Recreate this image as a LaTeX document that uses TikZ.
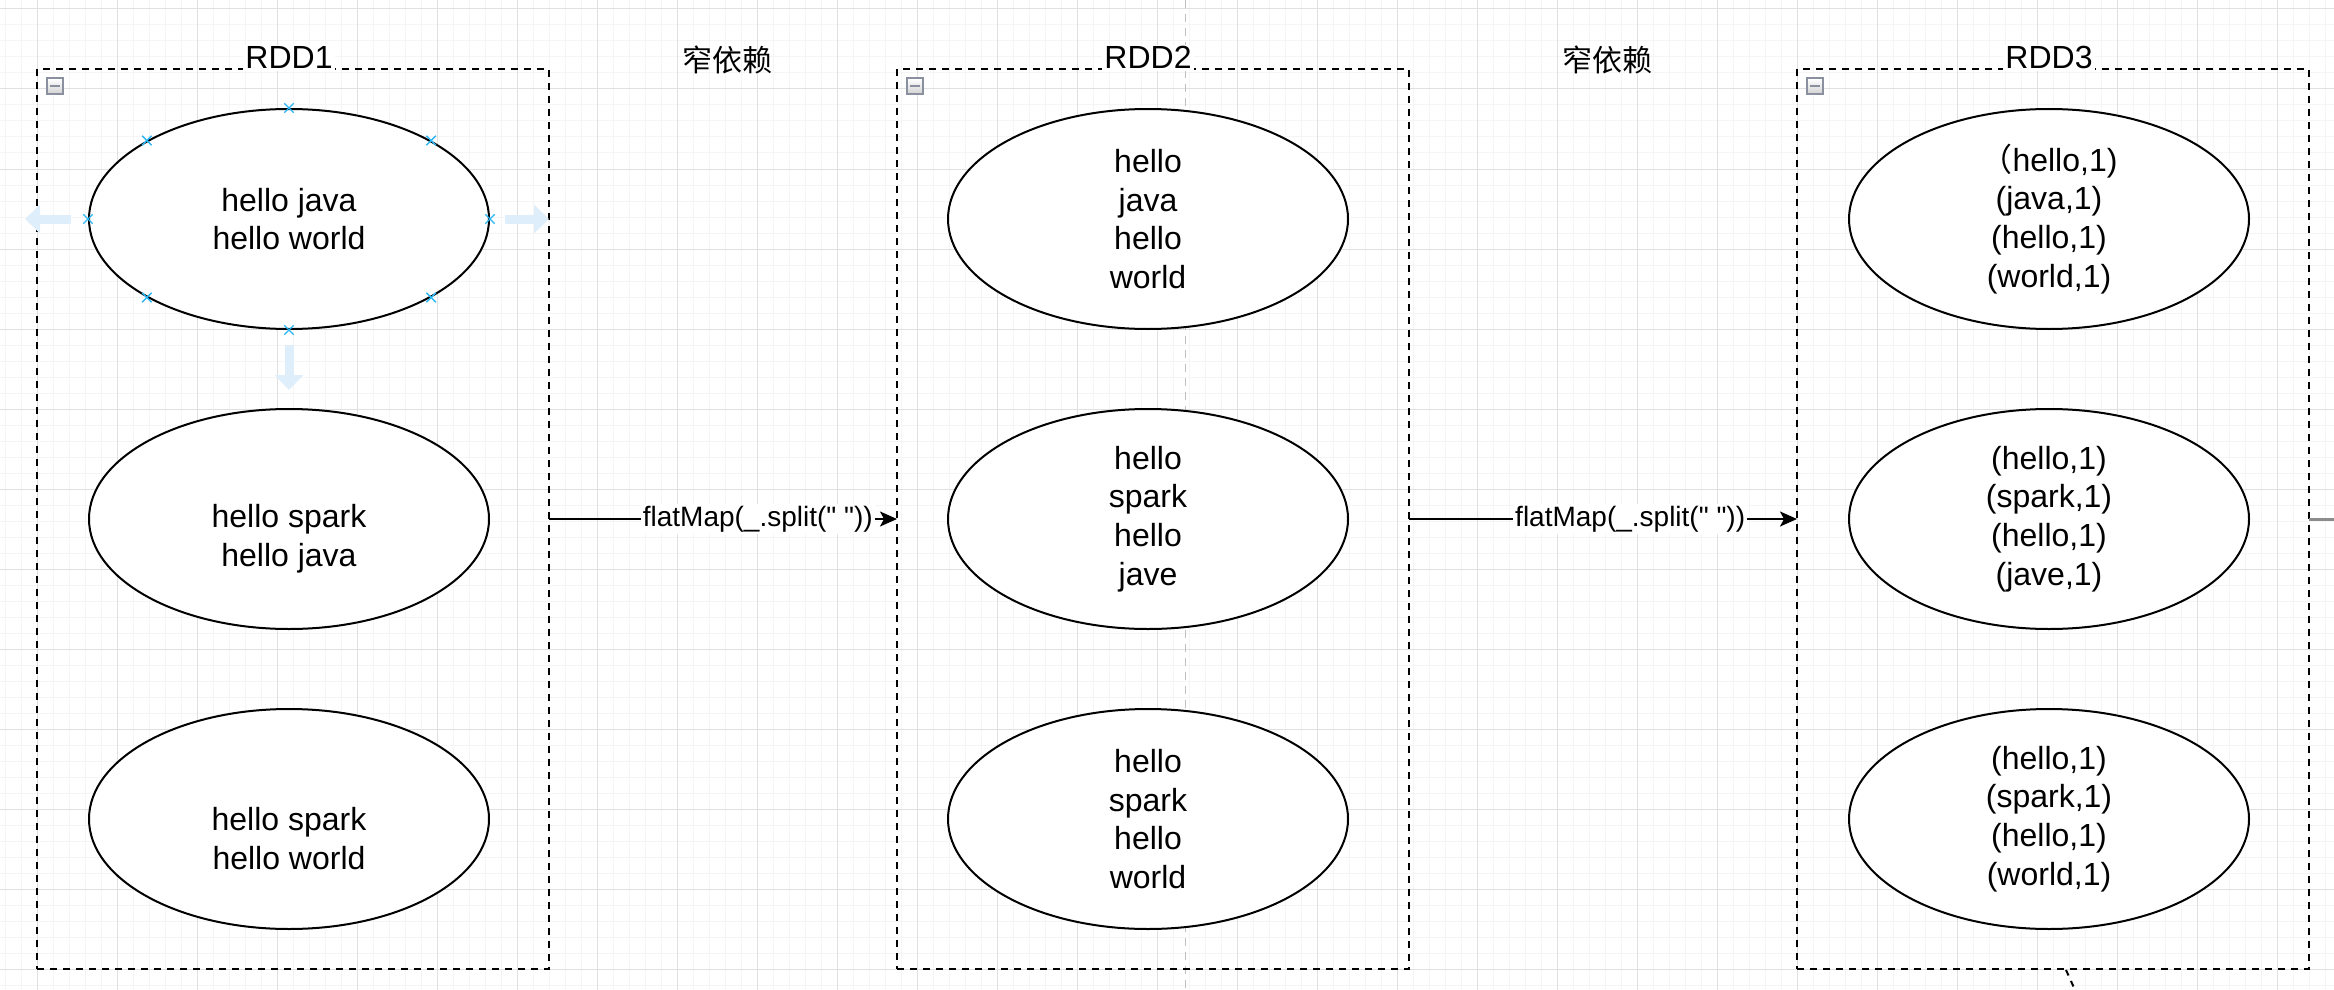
\documentclass[tikz,border=0pt]{standalone}
\usepackage{fontspec}
\setmainfont{Liberation Sans}[Ligatures=TeXOff]
\newfontfamily\cjk{Noto Sans CJK SC}
\usetikzlibrary{arrows.meta,shapes.geometric,shapes.misc}

\definecolor{handleblue}{RGB}{41,182,242}
\definecolor{hoverblue}{RGB}{222,238,251}
\definecolor{foldgray}{RGB}{138,144,160}

\tikzset{
    rdd/.style={draw,line width=1pt,dash pattern=on 3.5pt off 3pt,minimum width=256pt,minimum height=450pt,inner sep=0pt,outer sep=0pt},
    part/.style={ellipse,draw,fill=white,line width=1pt,minimum width=200pt,minimum height=110pt,inner sep=0pt,align=center,font=\fontsize{16}{19.4}\selectfont},
    rddtitle/.style={fill=white,inner sep=1pt,anchor=base,font=\fontsize{16}{19.4}\selectfont},
    dep/.style={font=\cjk\fontsize{15}{18}\selectfont},
    mapedge/.style={line width=1pt,-{Stealth[length=8.5pt,width=7.5pt,inset=2pt]}},
    maplabel/.style={fill=white,inner sep=1pt,font=\fontsize{14}{17}\selectfont},
    fold/.style={draw=foldgray,line width=1pt,top color=white,bottom color=black!18,minimum size=8pt,inner sep=0pt,
        path picture={\draw[line width=1pt] ([xshift=-2.5pt]path picture bounding box.center) -- ([xshift=2.5pt]path picture bounding box.center);}},
    handlemark/.style={cross out,draw=handleblue,line width=0.7pt,minimum size=4pt,inner sep=0pt},
    hover/.style={hoverblue,line width=4.5pt,-{Triangle[length=7.5pt,width=14pt]}},
    stub/.style={black!45,line width=1.5pt},
    minorline/.style={black!4,line width=0.5pt},
    majorline/.style={black!12,line width=0.5pt},
    pagebreak/.style={black!25,line width=0.5pt,dash pattern=on 4pt off 3pt}
    }

\begin{document}
\begin{tikzpicture}[x=0.5pt,y=-0.5pt]
    \useasboundingbox (0,0) rectangle (2334,990);
    % The grid
    \foreach \gx in {5,21,...,2333} \draw[minorline] (\gx,0) -- (\gx,990);
    \foreach \gy in {9,25,...,989} \draw[minorline] (0,\gy) -- (2334,\gy);
    \foreach \gx in {37,117,...,2333} \draw[majorline] (\gx,0) -- (\gx,990);
    \foreach \gy in {9,89,...,989} \draw[majorline] (0,\gy) -- (2334,\gy);
    \draw[pagebreak] (1185,0) -- (1185,990);

    % The RDDs
    \node[rdd] (rdd1) at (293,519) {};
    \node[rdd] (rdd2) at (1153,519) {};
    \node[rdd] (rdd3) at (2053,519) {};
    \node[fold] (f1) at ([xshift=9pt,yshift=-8.75pt]rdd1.north west) {};
    \node[fold] (f2) at ([xshift=9pt,yshift=-8.75pt]rdd2.north west) {};
    \node[fold] (f3) at ([xshift=9pt,yshift=-8.75pt]rdd3.north west) {};

    % The hover arrows
    \draw[hover] (71,219) -- (25,219);
    \draw[hover] (505,219) -- (549,219);
    \draw[hover] (289,345) -- (289,390);

    % The partitions
    \node[part] (p11) at (289,219) {hello java\\hello world};
    \node[part] (p12) at (289,519) {\vphantom{h}\\hello spark\\hello java};
    \node[part] (p13) at (289,819) {\vphantom{h}\\hello spark\\hello world};
    \node[part] (p21) at (1148,219) {hello\\java\\hello\\world};
    \node[part] (p22) at (1148,519) {hello\\spark\\hello\\jave};
    \node[part] (p23) at (1148,819) {hello\\spark\\hello\\world};
    \node[part] (p31) at (2049,219) {{\cjk （}hello,1)\\(java,1)\\(hello,1)\\(world,1)};
    \node[part] (p32) at (2049,519) {(hello,1)\\(spark,1)\\(hello,1)\\(jave,1)};
    \node[part] (p33) at (2049,819) {(hello,1)\\(spark,1)\\(hello,1)\\(world,1)};
    \foreach \a [count=\i] in {north,north east,east,south east,south,south west,west,north west}
        \node[handlemark] (h\i) at (p11.\a) {};

    % The titles
    \node[rddtitle] (t1) at (p11 |- rdd1.north) {RDD1};
    \node[rddtitle] (t2) at (p21 |- rdd2.north) {RDD2};
    \node[rddtitle] (t3) at (p31 |- rdd3.north) {RDD3};
    \node[dep] (d1) at (727,60) {窄依赖};
    \node[dep] (d2) at (1607,60) {窄依赖};

    % The transformations
    \draw[mapedge] (rdd1.east) -- node[maplabel,pos=0.6] (m1) {flatMap(\_.split(" "))} (rdd2.west);
    \draw[mapedge] (rdd2.east) -- node[maplabel,pos=0.57] (m2) {flatMap(\_.split(" "))} (rdd3.west);
    \coordinate (out) at (2334,519);
    \draw[stub] (rdd3.east) -- (out);
    \coordinate (cut1) at (2066,970);
    \coordinate (cut2) at (2075,990);
    \draw[line width=1pt,dash pattern=on 3pt off 3pt] (cut1) -- (cut2);
\end{tikzpicture}
\end{document}
